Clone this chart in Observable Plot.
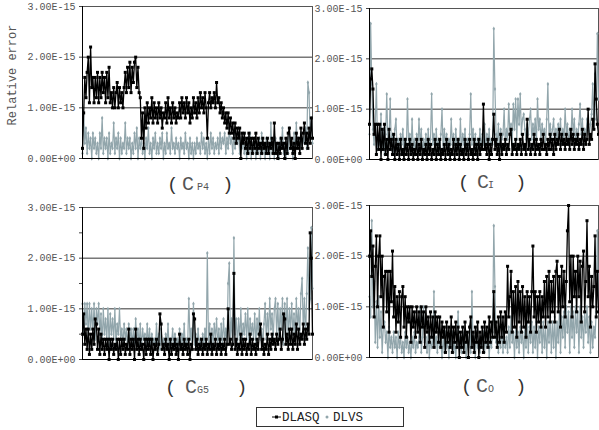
<!DOCTYPE html>
<html>
<head>
<meta charset="utf-8">
<script src="https://cdn.jsdelivr.net/npm/d3@7"></script>
<script src="https://cdn.jsdelivr.net/npm/@observablehq/plot@0.6"></script>
<style>
  html, body { margin: 0; padding: 0; background: #fff; }
  #chart { position: relative; width: 599px; height: 430px; background: #fff; overflow: hidden; }
  #chart > .panel { position: absolute; }
  #overlay { position: absolute; left: 0; top: 0; }
</style>
</head>
<body>
<div id="chart"></div>
<script>
// Values in units of 1E-16 (relative error)
const seriesNames = ["DLASQ", "DLVS"];
const panelLabels = [["C", "P4"], ["C", "I"], ["C", "G5"], ["C", "O"]];
const yTicks = [0, 10, 20, 30];
const yTickLabels = ["0.00E+00", "1.00E-15", "2.00E-15", "3.00E-15"];

const cp4_dlasq = [
  2,9,16,12,17,20,11,22,14,16,11,16,12,17,11,16,12,17,13,16,
  11,17,12,18,11,13,10,14,10,13,15,10,14,11,13,10,14,17,13,18,
  14,19,13,18,15,19,20,14,18,13,12,4,9,2,10,6,11,7,10,8,
  12,7,11,8,10,7,11,8,10,6,9,8,11,7,12,8,10,7,11,8,
  10,7,9,8,11,8,12,9,11,8,12,9,11,7,10,8,12,9,11,8,
  12,9,13,10,12,9,13,10,4,11,13,10,12,11,13,10,15,11,12,9,
  11,8,10,7,9,6,9,5,8,5,7,4,7,3,6,4,6,0,5,3,
  5,2,4,1,5,2,4,1,4,2,5,1,4,2,3,1,4,2,3,1,
  4,1,3,2,4,1,7,1,3,0,3,1,4,2,3,0,4,1,5,6,
  2,4,1,3,0,5,2,4,1,6,2,5,7,3,5,2,6,3,8,4];
const cp4_dlvs = [
  1,9,3,6,1,5,2,4,0,5,2,4,1,3,0,5,2,8,1,4,
  2,4,0,5,1,3,2,7,1,4,2,5,0,4,1,3,2,7,1,4,
  2,4,0,3,1,5,2,6,0,4,2,4,1,3,0,4,2,6,1,3,
  0,4,2,5,1,3,1,4,2,5,0,3,1,5,2,3,1,6,2,3,
  1,4,2,3,0,4,2,3,1,5,2,3,0,4,1,3,0,3,1,4,
  2,3,1,5,2,4,1,3,0,4,1,5,2,4,1,3,2,4,1,5,
  2,4,3,5,1,4,2,6,3,4,1,5,2,4,3,5,1,4,2,4,
  1,3,0,4,1,5,0,3,1,4,0,3,1,4,0,5,1,3,0,4,
  1,3,0,7,1,3,0,4,1,3,0,4,2,6,1,3,0,4,1,6,
  2,3,0,5,1,7,2,4,1,5,2,4,3,6,2,15,13,4,8,3];

const ci_dlasq = [
  7,16,18,14,5,7,1,7,2,7,0,6,2,7,1,4,0,6,2,4,
  1,5,0,4,1,3,0,4,1,2,0,4,1,3,0,4,1,3,0,2,
  1,4,0,3,1,4,0,2,1,3,0,4,1,3,0,2,1,4,0,3,
  1,4,0,2,1,3,0,4,1,3,0,2,1,4,0,3,1,4,0,3,
  1,2,0,4,1,3,0,4,1,2,0,4,1,3,0,4,1,3,2,11,
  2,3,1,4,0,3,1,4,9,2,4,1,3,0,5,1,3,2,4,1,
  3,2,5,6,1,3,2,4,1,3,2,4,1,5,2,3,1,8,2,4,
  1,3,2,5,1,4,2,3,1,4,2,5,2,3,1,4,2,5,2,4,
  1,5,2,4,3,6,2,5,3,4,2,5,3,4,2,6,3,5,2,4,
  3,5,2,4,3,6,2,5,3,4,10,3,5,4,8,6,19,12,7,5];
const ci_dlvs = [
  5,27,15,6,3,7,15,2,5,3,9,2,6,1,5,13,3,4,12,2,
  5,1,6,8,2,4,1,5,3,6,1,4,2,12,3,5,1,8,2,4,
  1,5,2,8,3,6,1,4,2,5,1,6,2,4,13,3,5,1,6,2,
  4,1,5,10,2,6,3,5,1,4,2,8,3,5,1,6,2,4,1,8,
  2,5,3,6,1,4,2,5,13,3,6,2,5,1,4,3,6,2,5,3,
  7,2,5,3,6,2,4,3,26,14,5,3,7,2,6,4,5,10,3,6,
  4,11,5,7,3,11,6,12,4,12,7,13,5,8,9,6,4,7,5,8,
  10,4,7,5,8,3,12,6,8,4,7,5,6,3,8,15,5,7,4,6,
  8,3,6,4,7,5,8,3,6,4,10,5,7,3,6,4,10,5,8,3,
  6,4,7,11,5,8,3,6,4,8,6,5,7,9,15,6,17,8,25,12];

const cg5_dlasq = [
  5,9,3,6,2,6,1,5,2,6,3,8,7,2,6,1,5,2,4,1,
  4,2,4,0,4,2,4,1,3,2,4,0,4,1,4,2,4,1,3,2,
  6,1,4,2,4,0,6,2,4,1,4,2,3,0,4,1,4,2,4,1,
  4,0,3,2,4,1,3,9,7,2,3,1,4,2,3,0,4,1,3,2,
  4,1,3,0,5,2,3,1,4,2,3,1,4,0,3,2,9,8,2,4,
  1,3,2,4,1,3,2,4,1,3,2,5,1,3,2,4,1,3,2,4,
  1,3,2,4,1,3,10,3,4,2,3,17,2,4,1,3,2,5,1,4,
  2,4,1,3,2,5,1,4,2,3,1,4,2,5,7,2,4,1,3,2,
  5,1,4,2,5,3,4,2,5,3,4,6,2,4,9,8,3,5,2,6,
  3,6,2,5,3,7,2,6,3,5,4,7,3,6,4,7,5,25,20,5];
const cg5_dlvs = [
  11,5,11,7,11,4,11,6,10,5,11,4,10,7,11,5,9,3,10,5,
  8,4,10,3,9,5,8,4,10,3,7,5,10,4,6,3,7,4,6,2,
  7,4,6,3,6,2,8,4,6,3,7,2,6,4,5,2,7,3,6,2,
  5,3,4,2,7,3,5,2,6,3,4,2,5,3,7,2,4,3,6,2,
  5,3,4,2,6,2,5,3,7,2,4,3,12,4,6,2,11,3,5,2,
  6,3,4,2,5,3,6,2,21,3,7,2,6,3,7,4,8,3,6,2,
  7,3,8,4,6,3,15,19,4,8,3,24,5,8,3,8,4,10,3,7,
  5,9,4,10,3,8,5,7,4,9,3,8,5,10,4,6,3,7,11,4,
  9,5,12,6,9,4,10,12,5,11,4,10,6,12,3,11,5,12,4,10,
  6,11,5,9,4,12,6,10,5,13,16,6,12,4,13,22,10,12,26,14];

const co_dlasq = [
  20,25,16,22,8,18,24,10,20,24,12,20,6,16,17,9,17,5,17,11,
  21,8,14,5,12,7,13,4,12,14,6,12,4,10,7,10,3,10,6,9,
  4,10,5,9,3,10,6,9,2,10,5,8,3,9,4,8,2,9,5,8,
  3,8,2,7,4,6,1,7,3,6,2,8,1,6,3,7,2,6,0,5,
  2,6,1,7,3,5,0,6,8,2,5,1,6,3,7,0,5,2,6,1,
  7,3,6,2,8,3,7,4,13,4,7,2,8,3,9,4,8,3,9,5,
  18,8,12,17,5,13,6,14,4,15,7,13,5,14,6,12,4,13,7,12,
  5,13,22,8,13,5,12,7,13,6,12,8,15,6,16,8,17,7,15,9,
  16,7,17,19,9,16,6,18,10,17,8,15,25,30,11,20,8,20,12,17,
  9,20,12,19,7,18,21,9,15,27,12,18,6,16,10,14,24,8,17,9];
const co_dlvs = [
  12,8,27,10,15,3,11,2,12,4,9,1,6,7,3,5,0,6,2,4,
  1,5,2,4,0,5,2,4,1,3,0,5,2,4,1,3,0,4,2,5,
  1,3,2,4,10,1,4,10,3,4,1,5,0,4,2,3,13,2,4,1,
  5,2,3,0,4,1,5,2,3,0,4,2,5,1,3,0,4,9,2,4,
  1,5,2,3,0,4,2,5,1,13,2,4,0,5,2,3,1,4,2,5,
  1,4,2,5,0,4,2,5,26,14,3,5,1,4,2,6,1,5,2,4,
  1,6,2,8,3,5,0,6,2,5,1,6,3,5,0,6,2,7,1,6,
  3,7,1,6,2,7,0,6,3,8,1,7,2,6,0,7,3,8,1,7,
  2,8,0,7,3,9,1,8,4,9,2,10,5,9,1,10,4,9,2,10,
  5,9,1,10,4,8,2,9,5,10,3,8,1,7,2,6,4,9,25,10];

const BLACK = "#000000";
const GRAY = "#92a6ac";
const FONT = "'Liberation Mono', 'DejaVu Sans Mono', monospace";

const fmt = d => yTickLabels[yTicks.indexOf(d)];

function makePanel(black, gray, cfg) {
  const bd = black.map((v, i) => ({i, v}));
  const gd = gray.map((v, i) => ({i, v}));
  const marks = [
    Plot.ruleY([10, 20], {stroke: "#333", strokeWidth: 1}),
    Plot.frame({stroke: "#555"}),
    Plot.line(gd, {x: "i", y: "v", stroke: GRAY, strokeWidth: 1.2}),
    Plot.dot(gd, {x: "i", y: "v", symbol: "diamond", r: 1.3, fill: GRAY}),
    Plot.line(bd, {x: "i", y: "v", stroke: BLACK, strokeWidth: 1.3}),
    Plot.dot(bd, {x: "i", y: "v", symbol: "square", r: 1.7, fill: BLACK}),
    Plot.ruleY([0], {stroke: "#000", strokeWidth: 1}),
    Plot.ruleX([0], {stroke: "#000", strokeWidth: 1}),
    Plot.axisY(yTicks, {label: null, tickSize: 3, tickPadding: 4, tickFormat: fmt, fontSize: 10, fill: "#555", stroke: "#444"})
  ];
  if (cfg.minor) marks.push(Plot.axisY([5, 15, 25], {label: null, tickSize: 3, tickFormat: () => "", stroke: "#444"}));
  const svg = Plot.plot({
    width: cfg.width, height: cfg.height,
    marginLeft: cfg.ml, marginRight: 1, marginTop: cfg.mt, marginBottom: cfg.mb,
    x: {domain: [0, black.length - 1], axis: null},
    y: {domain: [0, 30], axis: null},
    style: {fontFamily: FONT, fontSize: "10px", color: "#444", background: "transparent", overflow: "visible"},
    marks
  });
  svg.classList.add("panel");
  svg.style.left = cfg.left + "px";
  svg.style.top = cfg.top + "px";
  return svg;
}

const chart = document.getElementById("chart");
chart.appendChild(makePanel(cp4_dlasq, cp4_dlvs, {left: 0, top: 0, width: 313, height: 162, ml: 82, mt: 6, mb: 4}));
chart.appendChild(makePanel(ci_dlasq, ci_dlvs, {left: 312, top: 0, width: 287, height: 163, ml: 57, mt: 8, mb: 4}));
chart.appendChild(makePanel(cg5_dlasq, cg5_dlvs, {left: 0, top: 200, width: 313, height: 163, ml: 82, mt: 7, mb: 4, minor: true}));
chart.appendChild(makePanel(co_dlasq, co_dlvs, {left: 312, top: 198, width: 287, height: 163, ml: 57, mt: 7, mb: 4}));

// Overlay: captions, y label, legend
const ns = "http://www.w3.org/2000/svg";
const ov = document.createElementNS(ns, "svg");
ov.setAttribute("id", "overlay");
ov.setAttribute("width", 599);
ov.setAttribute("height", 430);
chart.appendChild(ov);
function txt(x, y, s, size, fill, extra) {
  const t = document.createElementNS(ns, "text");
  t.setAttribute("x", x); t.setAttribute("y", y);
  t.setAttribute("font-family", FONT);
  t.setAttribute("font-size", size);
  t.setAttribute("fill", fill || "#333");
  if (extra) for (const k in extra) t.setAttribute(k, extra[k]);
  t.textContent = s;
  ov.appendChild(t);
  return t;
}
const capPos = [
  {lp: 167, c: 182, sub: 197, rp: 222, base: 190},
  {lp: 458, c: 477, sub: 488, rp: 515, base: 188},
  {lp: 165, c: 185, sub: 197, rp: 236, base: 393},
  {lp: 461, c: 476, sub: 488, rp: 515, base: 392}
];
panelLabels.forEach(([c, s], k) => {
  const p = capPos[k];
  txt(p.lp, p.base, "(", 19, "#333");
  txt(p.c, p.base, c, 20, "#555");
  txt(p.sub, p.base, s, 10, "#555");
  txt(p.rp, p.base, ")", 19, "#333");
});
txt(16, 75, "Relative error", 12, "#555", {"text-anchor": "middle", transform: "rotate(-90 16 75)"});

// legend
const box = document.createElementNS(ns, "rect");
box.setAttribute("x", 256.5); box.setAttribute("y", 407.5);
box.setAttribute("width", 147); box.setAttribute("height", 19);
box.setAttribute("fill", "none"); box.setAttribute("stroke", "#333");
ov.appendChild(box);
const ln = document.createElementNS(ns, "line");
ln.setAttribute("x1", 272); ln.setAttribute("x2", 281); ln.setAttribute("y1", 417); ln.setAttribute("y2", 417);
ln.setAttribute("stroke", BLACK);
ov.appendChild(ln);
const sq = document.createElementNS(ns, "rect");
sq.setAttribute("x", 275); sq.setAttribute("y", 415.5); sq.setAttribute("width", 3); sq.setAttribute("height", 3);
sq.setAttribute("fill", BLACK);
ov.appendChild(sq);
txt(282, 421, seriesNames[0], 12.5, "#222");
const dm = document.createElementNS(ns, "circle");
dm.setAttribute("cx", 327); dm.setAttribute("cy", 417); dm.setAttribute("r", 1.5);
dm.setAttribute("fill", GRAY);
ov.appendChild(dm);
txt(333, 421, seriesNames[1], 12.5, "#222");
</script>
</body>
</html>
